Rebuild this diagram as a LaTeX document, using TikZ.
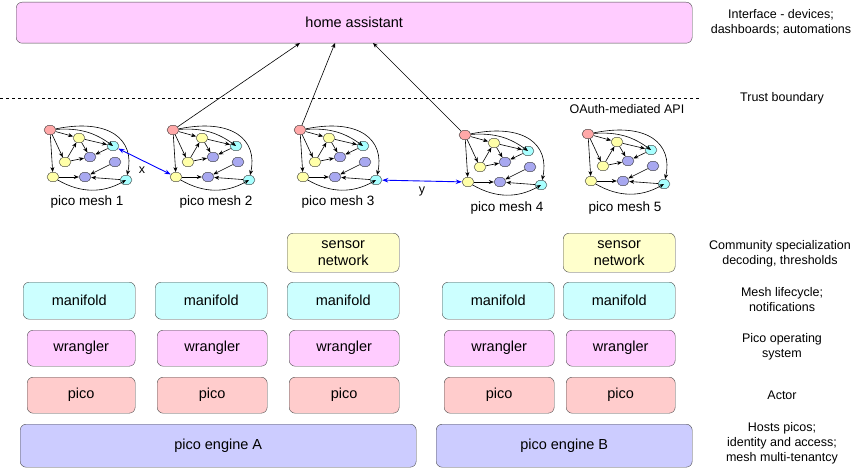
\documentclass[tikz,border=0pt]{standalone}
\usepackage{fontspec}
\setmainfont{Liberation Sans}
\usetikzlibrary{arrows.meta,shapes.geometric}
\definecolor{cmag}{HTML}{FFCCFF}
\definecolor{ccyan}{HTML}{CCFFFF}
\definecolor{cyel}{HTML}{FFFFCC}
\definecolor{csal}{HTML}{FFCCCC}
\definecolor{clav}{HTML}{CCCCFF}
\definecolor{dpink}{HTML}{FFA8A8}
\definecolor{dyel}{HTML}{FFFFA8}
\definecolor{dcyan}{HTML}{A8FFFF}
\definecolor{dpur}{HTML}{A8A8F0}
\begin{document}
\begin{tikzpicture}[x=1pt,y=-1pt,
  box/.style={draw=black!70,rounded corners=6pt,font=\fontsize{14.5}{17}\selectfont,align=center,anchor=north west,inner sep=0pt},
  lab/.style={font=\fontsize{12.5}{15}\selectfont,align=center},
  dot/.style={draw=black!80,ellipse,minimum width=12pt,minimum height=9.5pt,inner sep=0pt,line width=0.4pt},
  e/.style={-{Stealth[length=5pt,width=4pt]},line width=0.6pt},
  mesh/.pic={
    \node[dot,fill=dpink] (-P) at (0,0) {};
    \node[dot,fill=dyel] (-Y1) at (29,8) {};
    \node[dot,fill=dcyan] (-C1) at (63,16) {};
    \node[dot,fill=dyel] (-Y2) at (15,32) {};
    \node[dot,fill=dpur] (-U1) at (40,27) {};
    \node[dot,fill=dpur] (-U2) at (65,32) {};
    \node[dot,fill=dyel] (-Y3) at (3,47) {};
    \node[dot,fill=dpur] (-U3) at (35,47) {};
    \node[dot,fill=dcyan] (-C2) at (76,50) {};
    \draw[e] (-P) -- (-Y1);
    \draw[e] (-P) to[bend left=20] (-C1);
    \draw[e] (-P) -- (-Y2);
    \draw[e] (-P) -- (-Y3);
    \draw[e] (-P) .. controls (60,-12) and (85,10) .. (-C2);
    \draw[e] (-Y1) -- (-C1);
    \draw[e] (-Y1) -- (-U1);
    \draw[e] (-Y2) -- (-Y1);
    \draw[e] (-Y2) -- (-U1);
    \draw[e] (-C1) -- (-U1);
    \draw[e] (-U2) -- (-U3);
    \draw[e] (-Y3) -- (-U3);
    \draw[e] (-C2) -- (-U3);
    \draw[e] (-Y3) to[bend right=30] (-C2);
  }]
\useasboundingbox (0,0) rectangle (867,476);
\fill[white] (0,0) rectangle (867,476);
\node[box,fill=cmag,minimum width=676pt,minimum height=41pt] (ha) at (16,2) {home assistant};
\draw[dashed] (0,98) -- (700,98);
\pic (m1) at (50,130) {mesh};
\pic (m2) at (173,130) {mesh};
\pic (m3) at (300,130) {mesh};
\pic (m4) at (465,135) {mesh};
\pic (m5) at (588,134) {mesh};
\foreach \n/\x/\y in {1/87/202,2/216/202,3/338/202,4/507/208,5/625/208}
  \node[font=\fontsize{13.5}{15}\selectfont] (ml\n) at (\x,\y) {pico mesh \n};
\coordinate (h2) at (300,43); \coordinate (h3) at (335,43); \coordinate (h4) at (373,43);
\draw[e] (m2-P) -- (h2);
\draw[e] (m3-P) -- (h3);
\draw[e] (m4-P) -- (h4);
\draw[{Stealth[length=6pt]}-{Stealth[length=6pt]},blue,line width=0.9pt] (m1-C1) -- node[black,pos=0.45,below=3pt,font=\fontsize{12.5}{14}\selectfont] {x} (m2-Y3);
\draw[{Stealth[length=6pt]}-{Stealth[length=6pt]},blue,line width=0.9pt] (m3-C2) -- node[black,below=2pt,font=\fontsize{12.5}{14}\selectfont] {y} (m4-Y3);
\node[box,fill=cyel,minimum width=112pt,minimum height=39pt] (s1) at (287,233) {sensor\\network};
\node[box,fill=cyel,minimum width=112pt,minimum height=39pt] (s2) at (563,233) {sensor\\network};
\foreach \i/\x/\w in {1/23/112,2/155/112,3/287/112,4/442/112,5/563/112}
  \node[box,fill=ccyan,minimum width=\w pt,minimum height=37pt] (mf\i) at (\x,282) {manifold};
\foreach \i/\x/\w in {1/27/108,2/157/110,3/289/110,4/444/110,5/566/109}
  \node[box,fill=cmag,minimum width=\w pt,minimum height=36pt] (wr\i) at (\x,330) {wrangler};
\foreach \i/\x/\w in {1/27/108,2/157/110,3/289/110,4/444/110,5/566/109}
  \node[box,fill=csal,minimum width=\w pt,minimum height=36pt] (pc\i) at (\x,377) {pico};
\node[box,fill=clav,minimum width=396pt,minimum height=43pt] (ea) at (20,424) {pico engine A};
\node[box,fill=clav,minimum width=256pt,minimum height=43pt] (eb) at (436,424) {pico engine B};
\node[lab] (l1) at (781,22) {Interface - devices;\\dashboards; automations};
\node[lab] (l2) at (782,98) {Trust boundary};
\node[lab] (l3) at (627,109) {OAuth-mediated API};
\node[lab] (l4) at (780,254) {Community specialization\\decoding, thresholds};
\node[lab] (l5) at (782,300) {Mesh lifecycle;\\notifications};
\node[lab] (l6) at (782,347) {Pico operating\\system};
\node[lab] (l7) at (782,395) {Actor};
\node[lab] (l8) at (782,443) {Hosts picos;\\identity and access;\\mesh multi-tenantcy};
\end{tikzpicture}
\end{document}
